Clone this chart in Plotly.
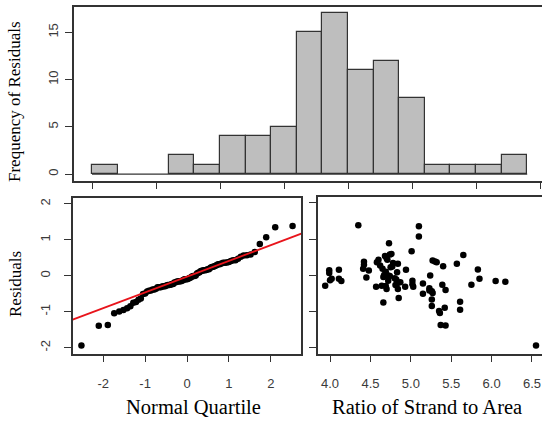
import numpy as np
import plotly.graph_objects as go
from statistics import NormalDist

# ---- data ----
strand_ratio = [3.94, 3.99, 3.99, 4.00, 4.02, 4.11, 4.11, 4.14, 4.35, 4.42,
                4.42, 4.41, 4.45, 4.48, 4.57, 4.58, 4.60, 4.65, 4.66, 4.67,
                4.68, 4.69, 4.70, 4.71, 4.72, 4.73, 4.74, 4.75, 4.76, 4.74,
                4.78, 4.82, 4.83, 4.83, 4.84, 4.84, 4.85, 4.93, 4.94, 5.01,
                5.02, 5.03, 5.10, 5.10, 5.15, 5.15, 5.24, 5.23, 5.26, 5.27,
                5.26, 5.26, 5.27, 5.30, 5.32, 5.35, 5.36, 5.37, 5.39, 5.40,
                5.42, 5.43, 5.43, 5.57, 5.61, 5.61, 5.65, 5.75, 5.83, 5.85,
                6.05, 6.17, 6.55, 4.64, 4.81, 5.23, 4.66, 4.72, 4.80, 4.87,
                5.02, 4.69, 4.62, 4.77, 4.70]
residuals = [-0.29, 0.14, 0.06, -0.14, -0.10, 0.15, -0.10, -0.16, 1.38, 0.37,
             0.29, 0.18, -0.06, 0.13, -0.32, 0.36, 0.43, 0.18, -0.75, 0.01,
             0.53, -0.30, -0.38, 0.43, -0.01, 0.88, 0.57, 0.22, 0.59, -0.02,
             0.34, -0.12, 0.08, -0.23, 0.32, -0.38, -0.63, -0.32, 0.15, 0.66,
             -0.25, -0.32, 1.35, 1.07, -0.23, -0.51, -0.01, -0.42, -0.44, -0.49,
             -0.67, -0.85, 0.41, 0.38, 0.36, -0.99, -1.04, -1.37, -0.26, 0.25,
             -0.90, -0.41, -1.39, 0.32, -0.73, -0.95, 0.56, -0.26, 0.16, -0.10,
             -0.16, -0.18, -1.94, -0.29, -0.27, -0.36, -0.05, -0.15, -0.08, -0.19,
             -0.15, 0.10, 0.27, 0.24, 0.47]

hist_bin_start = -2.0
hist_bin_end = 1.4
hist_bin_size = 0.2
hist_xticks = [-2.0, -1.5, -1.0, -0.5, 0.0, 0.5, 1.0, 1.5]
hist_yticks = [0, 5, 10, 15]
hist_yticklabels = ["0", "5", "10", "15"]
resid_ticks = [-2, -1, 0, 1, 2]
resid_ticklabels = ["-2", "-1", "0", "1", "2"]
qq_xticks = [-2, -1, 0, 1, 2]
qq_xticklabels = ["-2", "-1", "0", "1", "2"]
ratio_ticks = [4.0, 4.5, 5.0, 5.5, 6.0, 6.5]
ratio_ticklabels = ["4.0", "4.5", "5.0", "5.5", "6.0", "6.5"]

# ---- QQ computation ----
n = len(residuals)
nd = NormalDist()
sorted_res = sorted(residuals)
theo = [nd.inv_cdf((i + 0.5) / n) for i in range(n)]
q1, q3 = np.quantile(residuals, [0.25, 0.75])
z1, z3 = nd.inv_cdf(0.25), nd.inv_cdf(0.75)
slope = (q3 - q1) / (z3 - z1)
intercept = q1 - slope * z1

QQ_XRANGE = [-2.72, 2.72]
RES_YRANGE = [-2.16, 2.16]

fig = go.Figure()

# histogram
fig.add_trace(go.Histogram(
    x=residuals, xbins=dict(start=hist_bin_start, end=hist_bin_end, size=hist_bin_size),
    marker=dict(color="#bebebe", line=dict(color="#333333", width=1.2)),
    xaxis="x", yaxis="y", showlegend=False))
fig.add_trace(go.Scatter(
    x=[hist_bin_start, hist_bin_end], y=[0, 0], mode="lines",
    line=dict(color="#333333", width=1.2), xaxis="x", yaxis="y",
    showlegend=False, hoverinfo="skip"))

# QQ plot
fig.add_trace(go.Scatter(
    x=theo, y=sorted_res, mode="markers",
    marker=dict(color="black", size=6.5), xaxis="x2", yaxis="y2", showlegend=False))
fig.add_trace(go.Scatter(
    x=[QQ_XRANGE[0] - 1, QQ_XRANGE[1] + 1],
    y=[intercept + slope * (QQ_XRANGE[0] - 1), intercept + slope * (QQ_XRANGE[1] + 1)],
    mode="lines", line=dict(color="#e8141b", width=1.8),
    xaxis="x2", yaxis="y2", showlegend=False))

# scatter
fig.add_trace(go.Scatter(
    x=strand_ratio, y=residuals, mode="markers",
    marker=dict(color="black", size=6.5), xaxis="x3", yaxis="y3", showlegend=False))

W, H = 542, 428
LC = "#333333"
tickfont = dict(family="Liberation Sans, Arial", size=13, color="#3a3a3a")

def ax(**kw):
    base = dict(showgrid=False, zeroline=False, showline=True, linecolor=LC, linewidth=1.5,
                ticks="outside", ticklen=7, tickwidth=1.3, tickcolor=LC, tickfont=tickfont,
                fixedrange=True, automargin=False)
    base.update(kw)
    return base

fig.update_layout(
    width=W, height=H, margin=dict(l=0, r=0, t=0, b=0, autoexpand=False),
    paper_bgcolor="white", plot_bgcolor="white", bargap=0,
    xaxis=ax(domain=[74 / W, 1], range=[-2.1406, 1.5156], tickvals=hist_xticks,
             showticklabels=False, mirror=True, anchor="y"),
    yaxis=ax(domain=[1 - 180.5 / H, 1 - 7 / H], range=[-0.68, 17.68], tickvals=hist_yticks,
             ticktext=hist_yticklabels, tickangle=-90, anchor="x", ticklabelstandoff=2),
    xaxis2=ax(domain=[73 / W, 301 / W], range=QQ_XRANGE, tickvals=qq_xticks,
              ticktext=qq_xticklabels, mirror=True, anchor="y2", ticklabelstandoff=10),
    yaxis2=ax(domain=[1 - 353.5 / H, 1 - 198 / H], range=RES_YRANGE, tickvals=resid_ticks,
              ticktext=resid_ticklabels, tickangle=-90, mirror=True, anchor="x2",
              ticklabelstandoff=9),
    xaxis3=ax(domain=[318 / W, 1], range=[3.851, 6.624], tickvals=ratio_ticks,
              ticktext=ratio_ticklabels, mirror=True, anchor="y3", ticklabelstandoff=10),
    yaxis3=ax(domain=[1 - 353.5 / H, 1 - 197 / H], range=RES_YRANGE, tickvals=resid_ticks,
              showticklabels=False, anchor="x3"),
)

serif = "Liberation Serif, Times New Roman, serif"
annots = [
    dict(text="Frequency of Residuals", x=15 / W, y=1 - 102 / H, textangle=-90, size=17),
    dict(text="Residuals", x=15 / W, y=1 - 284 / H, textangle=-90, size=17),
    dict(text="Normal Quartile", x=193 / W, y=1 - 407 / H, textangle=0, size=20.5),
    dict(text="Ratio of Strand to Area", x=427 / W, y=1 - 407 / H, textangle=0, size=20.5),
]
for a in annots:
    fig.add_annotation(text=a["text"], x=a["x"], y=a["y"], xref="paper", yref="paper",
                       xanchor="center", yanchor="middle", textangle=a["textangle"],
                       showarrow=False, font=dict(family=serif, size=a["size"], color="black"))

fig.write_html("out.html", config={"displayModeBar": False},
               post_script="document.body.style.margin='0';document.body.style.overflow='hidden';")
